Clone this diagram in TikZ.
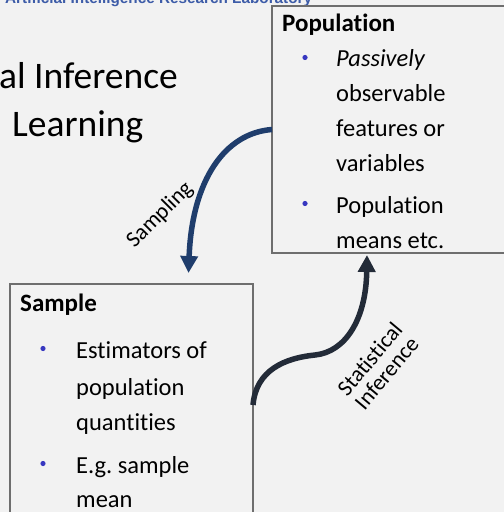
\documentclass[tikz,border=0pt]{standalone}
\usepackage{fontspec}
\setmainfont{Carlito}[Ligatures=CommonOff]
\newfontfamily\hdrfont{Liberation Sans}
\usetikzlibrary{arrows.meta}
\frenchspacing
\definecolor{slidebg}{HTML}{F2F2F2}
\definecolor{hdrblue}{HTML}{3D5CA8}
\definecolor{boxline}{HTML}{6E6E6E}
\definecolor{bulletblue}{HTML}{3838C0}
\definecolor{navy}{HTML}{1F3D6C}
\definecolor{slate}{HTML}{232B38}
\tikzset{
  panel/.style={draw=boxline, line width=1.2bp, rectangle, inner sep=0pt, outer sep=0pt},
  bodytext/.style={anchor=base west, inner sep=0pt, font=\fontsize{24.5bp}{29bp}\selectfont},
  headtext/.style={anchor=base west, inner sep=0pt, font=\fontsize{25bp}{30bp}\selectfont\bfseries},
  titletext/.style={anchor=base west, inner sep=0pt, font=\fontsize{37.5bp}{44bp}\selectfont},
  dot/.style={fill=bulletblue, draw=none},
  flow/.style={line width=5.5bp, -{Triangle[width=17bp,length=17bp]}},
  flowlabel/.style={inner sep=0pt, font=\fontsize{22.5bp}{22bp}\selectfont, align=center}
}
\begin{document}
\begin{tikzpicture}[x=1bp, y=-1bp]
  \useasboundingbox (0,0) rectangle (504,512);
  \fill[slidebg] (0,0) rectangle (504,512);
  \clip (0,0) rectangle (504,512);

  % laboratory banner, running off the top edge
  \node[anchor=base west, inner sep=0pt, text=hdrblue,
        font=\hdrfont\fontsize{15.3bp}{18bp}\selectfont\bfseries] (lab) at (5,4)
        {Artificial Intelligence Research Laboratory};

  % slide title
  \node[titletext] (t1) at (-1,89) {al Inference};
  \node[titletext] (t2) at (12,137) {Learning};

  % population panel
  \node[panel, minimum width=248bp, minimum height=247bp] (pop) at (396,129.5) {};
  \node[headtext] (pophead) at (282,32) {Population};
  \fill[dot] (305,57.5) circle (2.6bp);
  \node[bodytext] (p1) at (336,67) {\itshape Passively};
  \node[bodytext] (p2) at (336,102) {observable};
  \node[bodytext] (p3) at (336,137) {features or};
  \node[bodytext] (p4) at (336,172) {variables};
  \fill[dot] (305,203.5) circle (2.6bp);
  \node[bodytext] (p5) at (336,213) {Population};
  \node[bodytext] (p6) at (336,248) {means etc.};

  % sample panel
  \node[panel, minimum width=243bp, minimum height=242bp] (smp) at (131.5,405) {};
  \node[headtext] (smphead) at (20,311) {Sample};
  \fill[dot] (43,348.5) circle (2.6bp);
  \node[bodytext] (s1) at (76,358) {Estimators of};
  \node[bodytext] (s2) at (76,395) {population};
  \node[bodytext] (s3) at (76,430) {quantities};
  \fill[dot] (43,463.5) circle (2.6bp);
  \node[bodytext] (s4) at (76,473) {E.g. sample};
  \node[bodytext] (s5) at (76,507) {mean};

  % connectors
  \coordinate (sampend) at (188.5,273);
  \coordinate (bend) at (315,355);
  \coordinate (infend) at (367,255);
  \draw[flow, draw=navy] (pop.west) .. controls (225,133) and (192,180) .. (sampend);
  \draw[flow, draw=slate] (smp.east) .. controls (256,370) and (285,358) .. (bend)
        .. controls (345,352) and (366,320) .. (infend);

  \node[flowlabel, rotate=45] (samplab) at (160,215) {Sampling};
  \node[flowlabel, rotate=50] (inflab) at (378,366) {Statistical\\Inference};
\end{tikzpicture}
\end{document}
